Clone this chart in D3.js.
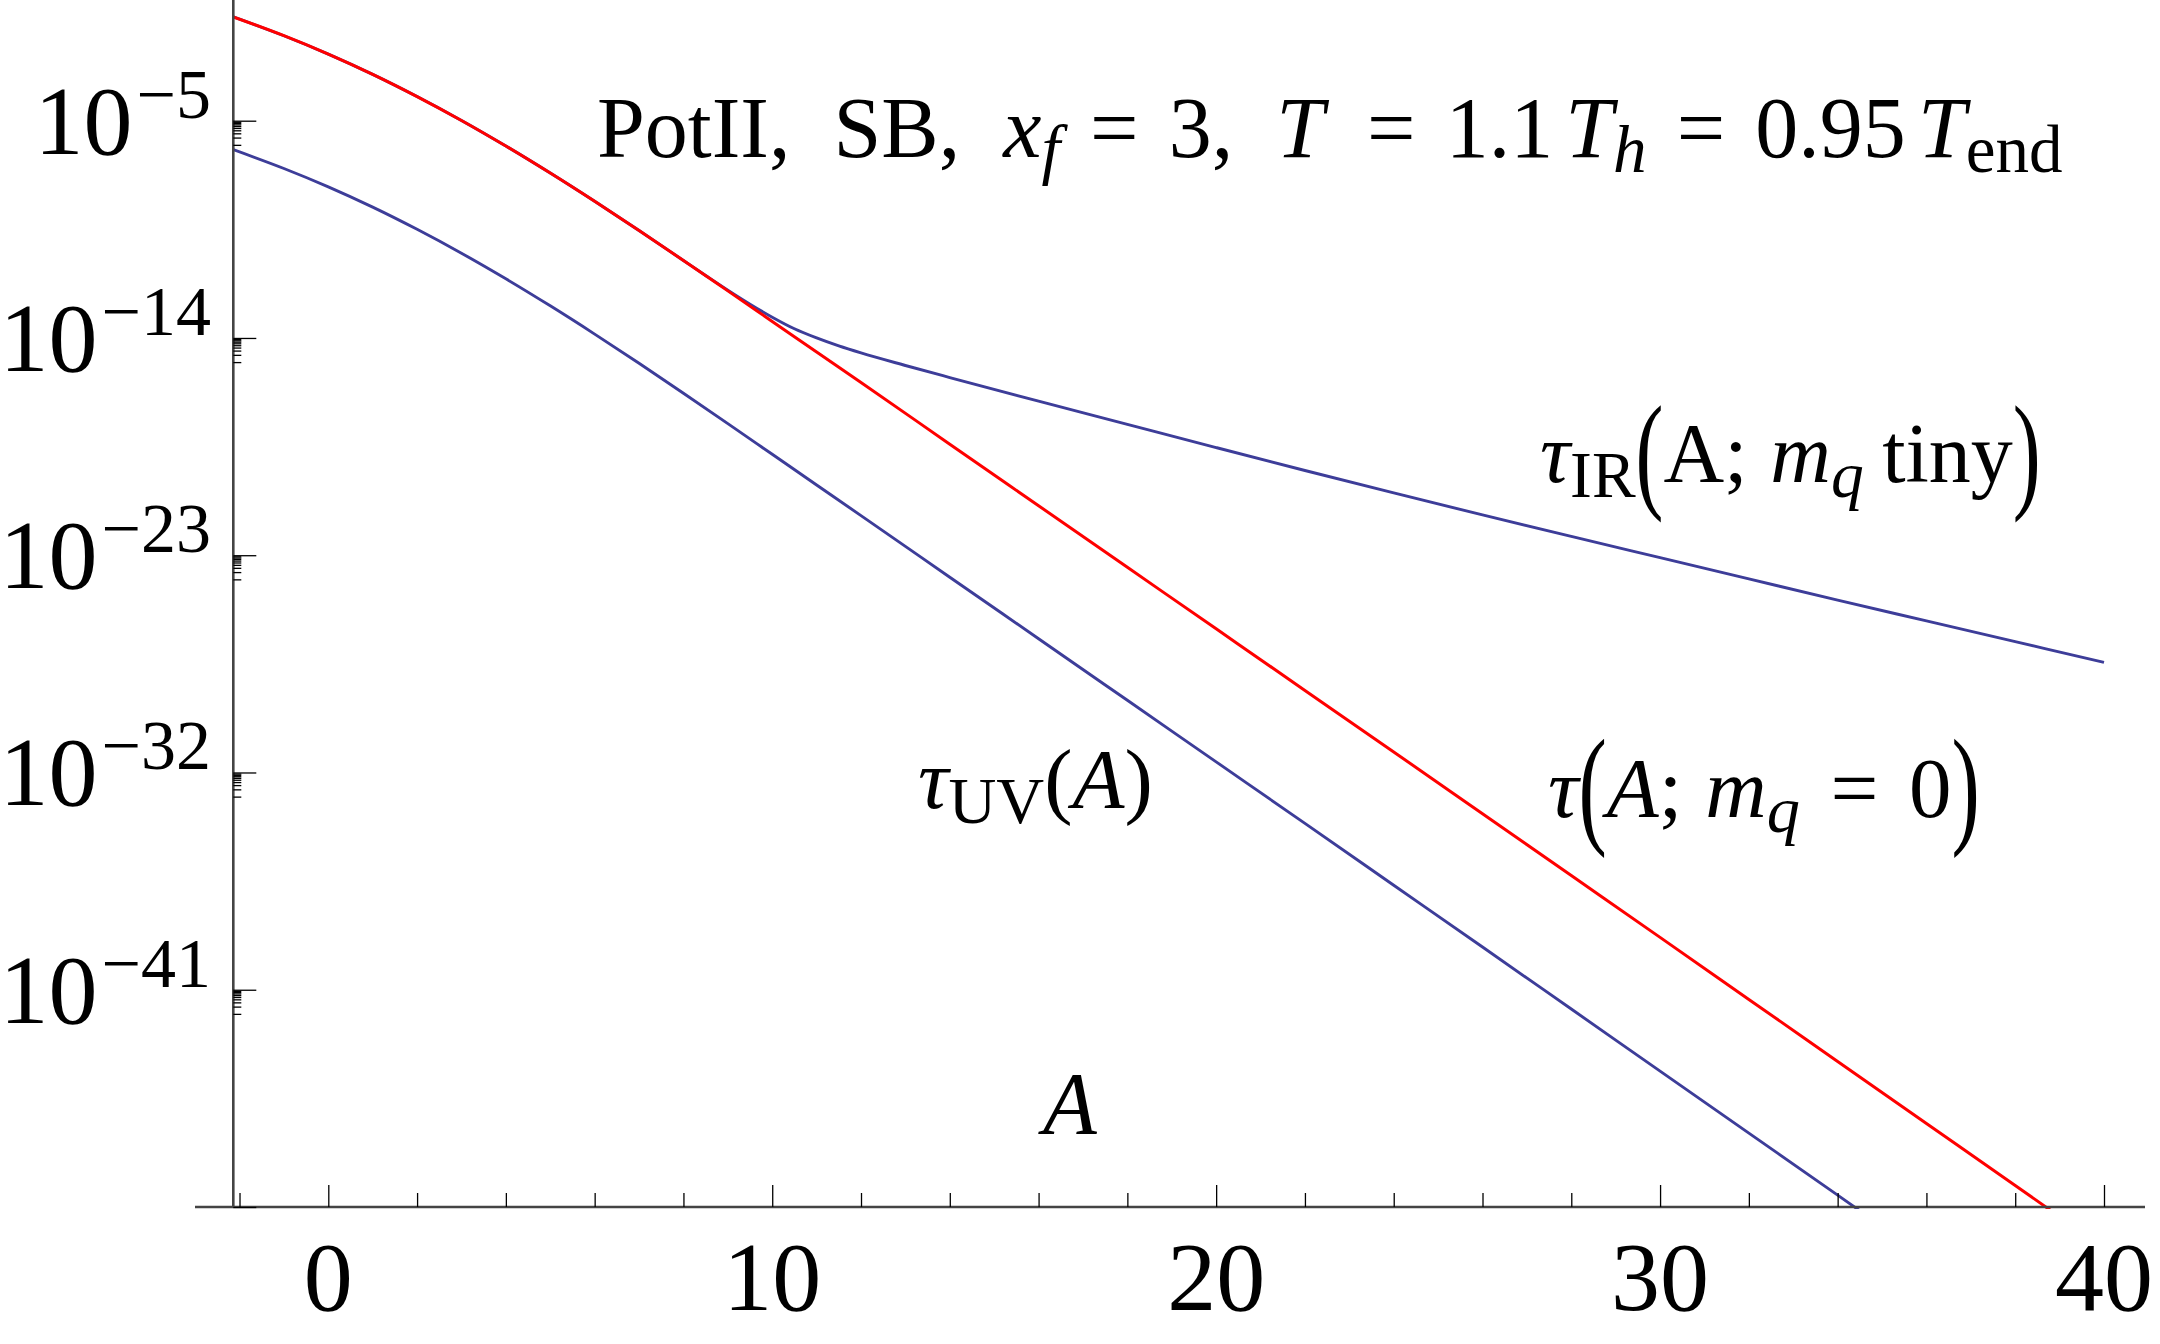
<!DOCTYPE html>
<html><head><meta charset="utf-8">
<script src="https://cdn.jsdelivr.net/npm/d3@7"></script>
<style>
html,body{margin:0;padding:0;background:#fff;}
text{font-family:"Liberation Serif","Times New Roman",serif;fill:#000;}
</style></head><body>
<svg id="chart" width="2160" height="1344"></svg>
<script>
// ---------------- data ----------------
// tau(A; m_q = 0)  (red): A values and log10(tau)
const A_mq0 = [-2.14,-1,0,1,2,3,4,5,6,7,8,9,10,11,12,14,16,18,20,22,24,26,28,30,32,34,36,38,39];
const log10TauMq0 = [-0.70,-1.48,-2.24,-3.08,-4.00,-4.99,-6.05,-7.17,-8.34,-9.55,-10.79,-12.05,-13.315,-14.58,-15.845,-18.40,-20.95,-23.50,-26.05,-28.60,-31.15,-33.71,-36.27,-38.83,-41.40,-43.97,-46.54,-49.11,-50.40];
// tau_UV(A)  (blue, lower)
const A_UV = [-2.14,-1,0,1,2,3,4,5,6,7,8,9,10,11,12,14,16,18,20,22,24,26,28,30,32,34,35];
const log10TauUV = [-6.20,-6.98,-7.74,-8.58,-9.50,-10.49,-11.55,-12.67,-13.84,-15.05,-16.29,-17.55,-18.82,-20.09,-21.36,-23.91,-26.46,-29.01,-31.56,-34.11,-36.67,-39.23,-41.80,-44.37,-46.94,-49.51,-50.80];
// tau_IR(A; m_q tiny)  (blue, upper)
const A_IR = [-2.14,-1,0,1,2,3,4,5,6,7,8,8.5,9,9.5,10,10.5,11,11.5,12,13,14,16,18,20,22,24,26,28,30,32,34,36,38,40];
const log10TauIR = [-0.70,-1.48,-2.24,-3.08,-4.00,-4.99,-6.05,-7.17,-8.34,-9.55,-10.79,-11.41,-12.02,-12.60,-13.14,-13.62,-14.00,-14.33,-14.62,-15.14,-15.64,-16.62,-17.58,-18.54,-19.49,-20.42,-21.33,-22.22,-23.10,-23.98,-24.86,-25.72,-26.58,-27.44];

// ticks
const xMajorTicks = [0,10,20,30,40];
const xMinorTicks = [-2,2,4,6,8,12,14,16,18,22,24,26,28,32,34,36,38];
const yMajorExponents = [-5,-14,-23,-32,-41,-50];
const yLabelExponents = [-5,-14,-23,-32,-41];

// ---------------- layout ----------------
const svg = d3.select("#chart");
svg.append("rect").attr("width",2160).attr("height",1344).attr("fill","#fff");

const x = d3.scaleLinear().domain([0,40]).range([328.3,2104]);
const y = d3.scaleLog().domain([1e-50,1]).range([1207,0]);
const xMin = -2.14;
const yAxisX = x(xMin);
const xAxisY = y(1e-50);

const red = "#ff0000", blue = "#3d3d99";

svg.append("defs").append("clipPath").attr("id","plotclip")
  .append("rect").attr("x",yAxisX).attr("y",0).attr("width",2160-yAxisX).attr("height",xAxisY+2);

const line = d3.line().x(d=>x(d[0])).y(d=>y(Math.pow(10,d[1]))).curve(d3.curveMonotoneX);
const series = [
  {A:A_IR, v:log10TauIR, color:blue, w:2.9},
  {A:A_UV, v:log10TauUV, color:blue, w:2.9},
  {A:A_mq0, v:log10TauMq0, color:red, w:3}
];
const gLines = svg.append("g").attr("clip-path","url(#plotclip)");
series.forEach(s=>{
  gLines.append("path").datum(s.A.map((a,i)=>[a,s.v[i]]))
    .attr("d",line).attr("fill","none").attr("stroke",s.color)
    .attr("stroke-width",s.w).attr("stroke-linejoin","round");
});

// axes lines
svg.append("line").attr("x1",195).attr("x2",2145).attr("y1",xAxisY).attr("y2",xAxisY)
  .attr("stroke","#444").attr("stroke-width",2.6);
svg.append("line").attr("x1",yAxisX).attr("x2",yAxisX).attr("y1",0).attr("y2",xAxisY)
  .attr("stroke","#444").attr("stroke-width",2.6);

function styleAxis(g){ g.select(".domain").remove(); g.selectAll(".tick line").attr("stroke","#000").attr("stroke-width",1.3); g.selectAll(".tick text").remove(); }
svg.append("g").attr("transform",`translate(0,${xAxisY})`)
  .call(d3.axisBottom(x).tickValues(xMajorTicks).tickSizeInner(-22).tickSizeOuter(0).tickFormat(""))
  .call(styleAxis);
svg.append("g").attr("transform",`translate(0,${xAxisY})`)
  .call(d3.axisBottom(x).tickValues(xMinorTicks).tickSizeInner(-14).tickSizeOuter(0).tickFormat(""))
  .call(styleAxis);

const yMajor = yMajorExponents.map(e=>Math.pow(10,e));
const yMinor = [];
yMajorExponents.filter(e=>e>-50).forEach(e=>{ for(let m=1;m<=9;m++) yMinor.push(m*Math.pow(10,e-1)); });
svg.append("g").attr("transform",`translate(${yAxisX},0)`)
  .call(d3.axisRight(y).tickValues(yMajor).tickSizeInner(23).tickSizeOuter(0).tickFormat(""))
  .call(styleAxis);
svg.append("g").attr("transform",`translate(${yAxisX},0)`)
  .call(d3.axisRight(y).tickValues(yMinor).tickSizeInner(8).tickSizeOuter(0).tickFormat(""))
  .call(styleAxis);

// x tick labels
svg.append("g").selectAll("text").data(xMajorTicks).join("text")
  .attr("x",d=>x(d)).attr("y",1310).attr("text-anchor","middle")
  .attr("font-size",98).text(d=>d);

// y tick labels
const yl = svg.append("g").selectAll("text").data(yLabelExponents).join("text")
  .attr("x",211).attr("y",d=>y(Math.pow(10,d))+33).attr("text-anchor","end").attr("font-size",98);
yl.append("tspan").text("10");
yl.append("tspan").attr("font-size",70).attr("dx",4).attr("dy",-36).text(d=>"\u2212"+Math.abs(d));

// ---------------- math-like labels ----------------
function mathLabel(x0, y0, size, pieces){
  const g = svg.append("g");
  let cx = x0;
  pieces.forEach(p=>{
    if(p.gap!==undefined){ cx += p.gap*size; return; }
    const fs = size*(p.s||1);
    const t = g.append("text").attr("font-size",fs)
      .attr("font-style",p.it?"italic":"normal").text(p.t);
    if(p.tall){
      const cyy = y0 - 0.28*size;
      t.attr("transform",`translate(${cx},${cyy}) scale(1,${p.tall})`).attr("x",0).attr("y",0.28*size);
    } else {
      t.attr("x",cx).attr("y",y0+(p.dy||0)*size);
    }
    cx += t.node().getComputedTextLength();
  });
  return cx;
}
const SUB = 0.78, SDY = 0.18;
// title
mathLabel(597,157,86,[
  {t:"PotII,"},{gap:0.5},{t:"SB,"},{gap:0.5},
  {t:"x",it:1},{t:"f",it:1,s:SUB,dy:SDY},{gap:0.35},{t:"="},{gap:0.35},{t:"3,"},{gap:0.5},
  {t:"T",it:1},{gap:0.5},{t:"="},{gap:0.35},{t:"1.1"},{gap:0.14},
  {t:"T",it:1},{t:"h",it:1,s:SUB,dy:SDY},{gap:0.35},{t:"="},{gap:0.35},{t:"0.95"},{gap:0.14},
  {t:"T",it:1},{t:"end",s:SUB,dy:SDY}
]);
// tau_IR(A; m_q tiny)
mathLabel(1540,482,84,[
  {t:"\u03C4",it:1},{t:"IR",s:SUB,dy:SDY},{t:"(",tall:1.55},{t:"A"},{t:";"},{gap:0.27},
  {t:"m",it:1},{t:"q",it:1,s:SUB,dy:SDY},{gap:0.22},{t:"tiny"},{t:")",tall:1.55}
]);
// tau_UV(A)
mathLabel(918,808,85,[
  {t:"\u03C4",it:1},{t:"UV",s:SUB,dy:SDY},{t:"("},{t:"A",it:1},{t:")"}
]);
// tau(A; m_q = 0)
mathLabel(1548,817,85,[
  {t:"\u03C4",it:1},{t:"(",tall:1.55},{t:"A",it:1},{t:";"},{gap:0.27},
  {t:"m",it:1},{t:"q",it:1,s:SUB,dy:SDY},{gap:0.36},{t:"="},{gap:0.36},{t:"0"},{t:")",tall:1.55}
]);
// axis label A
svg.append("text").attr("x",1043).attr("y",1133).attr("font-size",88).attr("font-style","italic").text("A");
</script>
</body></html>
